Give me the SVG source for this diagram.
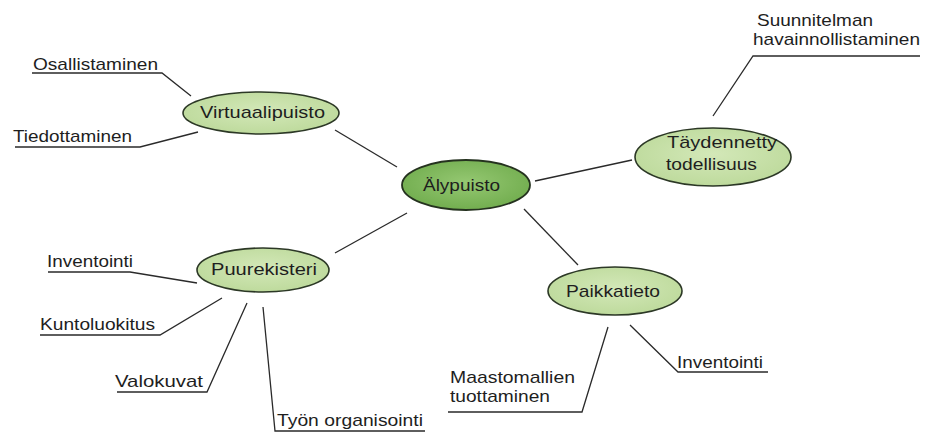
<svg xmlns="http://www.w3.org/2000/svg" width="929" height="433" viewBox="0 0 929 433">
<defs>
<radialGradient id="gl" cx="50%" cy="45%" r="60%">
<stop offset="0" stop-color="#d3e8b8"/>
<stop offset="1" stop-color="#bcd99a"/>
</radialGradient>
<radialGradient id="gd" cx="50%" cy="45%" r="60%">
<stop offset="0" stop-color="#95c872"/>
<stop offset="1" stop-color="#6fab4c"/>
</radialGradient>
</defs>
<style>
.n{fill:url(#gl);stroke:#2c3826;stroke-width:1.6}
.c{fill:url(#gd);stroke:#25321f;stroke-width:1.8}
.t{font-family:"Liberation Sans",Arial,sans-serif;font-size:17px;fill:#1e1e1e}
.l{fill:none;stroke:#2a2a2a;stroke-width:1.3}
</style>
<rect width="929" height="433" fill="#ffffff"/>
<g id="connectors">
<polyline class="l" points="32,73 162,73 191,96"/>
<polyline class="l" points="15,147 140,147 198,132"/>
<polyline class="l" points="335,130 397,167"/>
<polyline class="l" points="920,56 753,56 713,116"/>
<polyline class="l" points="535,181 632,160"/>
<polyline class="l" points="407,213 335,253"/>
<polyline class="l" points="524,209 578,265"/>
<polyline class="l" points="48,272 130,272 197,283"/>
<polyline class="l" points="40,335 160,335 222,298"/>
<polyline class="l" points="117,392 207,392 247,303"/>
<polyline class="l" points="263,307 275,431 425,431"/>
<polyline class="l" points="448,412 582,412 608,327"/>
<polyline class="l" points="630,325 678,372 768,372"/>
</g>
<g id="alypuisto">
<ellipse class="c" cx="466" cy="185" rx="64" ry="25"/>
<text class="t" x="423" y="191" textLength="77" lengthAdjust="spacingAndGlyphs">Älypuisto</text>
</g>
<g id="virtuaalipuisto">
<ellipse class="n" cx="261" cy="113" rx="78" ry="21"/>
<text class="t" x="200" y="118" textLength="125" lengthAdjust="spacingAndGlyphs">Virtuaalipuisto</text>
</g>
<g id="taydennetty">
<ellipse class="n" cx="713" cy="157" rx="78" ry="29"/>
<text class="t" x="667" y="148" textLength="110" lengthAdjust="spacingAndGlyphs">Täydennetty</text>
<text class="t" x="666" y="170" textLength="91" lengthAdjust="spacingAndGlyphs">todellisuus</text>
</g>
<g id="puurekisteri">
<ellipse class="n" cx="263" cy="270" rx="66" ry="22"/>
<text class="t" x="211" y="275" textLength="106" lengthAdjust="spacingAndGlyphs">Puurekisteri</text>
</g>
<g id="paikkatieto">
<ellipse class="n" cx="615" cy="291" rx="67" ry="24"/>
<text class="t" x="566" y="297" textLength="94" lengthAdjust="spacingAndGlyphs">Paikkatieto</text>
</g>
<g id="osallistaminen">
<text class="t" x="33" y="70" textLength="125" lengthAdjust="spacingAndGlyphs">Osallistaminen</text>
</g>
<g id="tiedottaminen">
<text class="t" x="13" y="142" textLength="119" lengthAdjust="spacingAndGlyphs">Tiedottaminen</text>
</g>
<g id="suunnitelman">
<text class="t" x="757" y="26" textLength="116" lengthAdjust="spacingAndGlyphs">Suunnitelman</text>
<text class="t" x="753" y="45" textLength="167" lengthAdjust="spacingAndGlyphs">havainnollistaminen</text>
</g>
<g id="inventointi1">
<text class="t" x="47" y="267" textLength="86" lengthAdjust="spacingAndGlyphs">Inventointi</text>
</g>
<g id="kuntoluokitus">
<text class="t" x="40" y="330" textLength="115" lengthAdjust="spacingAndGlyphs">Kuntoluokitus</text>
</g>
<g id="valokuvat">
<text class="t" x="115" y="387" textLength="88" lengthAdjust="spacingAndGlyphs">Valokuvat</text>
</g>
<g id="tyon">
<text class="t" x="277" y="426" textLength="146" lengthAdjust="spacingAndGlyphs">Työn organisointi</text>
</g>
<g id="maastomallien">
<text class="t" x="450" y="383" textLength="125" lengthAdjust="spacingAndGlyphs">Maastomallien</text>
<text class="t" x="450" y="402" textLength="100" lengthAdjust="spacingAndGlyphs">tuottaminen</text>
</g>
<g id="inventointi2">
<text class="t" x="677" y="368" textLength="86" lengthAdjust="spacingAndGlyphs">Inventointi</text>
</g>
</svg>
